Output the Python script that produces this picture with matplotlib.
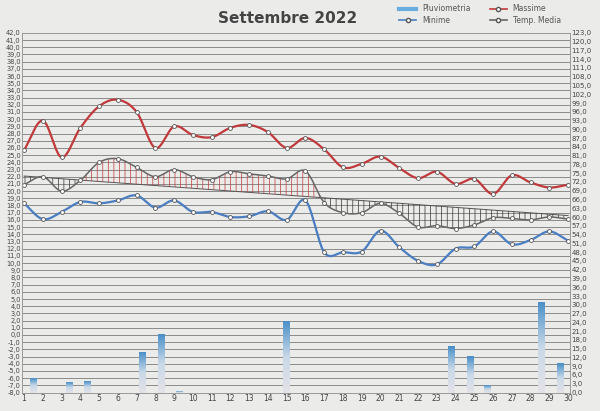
import numpy as np
import matplotlib.pyplot as plt
from matplotlib.colors import LinearSegmentedColormap
from matplotlib.lines import Line2D

days = list(range(1, 31))
massime = [25.7, 29.8, 24.7, 28.8, 31.8, 32.7, 31.0, 26.0, 29.0, 27.8, 27.5, 28.8, 29.2, 28.2, 26.0,
           27.4, 25.8, 23.3, 23.8, 24.8, 23.2, 21.8, 22.7, 21.0, 21.7, 19.6, 22.2, 21.2, 20.5, 20.9]
minime = [18.3, 16.1, 17.1, 18.5, 18.3, 18.7, 19.4, 17.7, 18.7, 17.1, 17.1, 16.4, 16.5, 17.2, 16.0,
          18.7, 11.5, 11.5, 11.6, 14.5, 12.2, 10.3, 9.8, 12.0, 12.3, 14.4, 12.6, 13.2, 14.4, 13.1]
media = [20.9, 22.0, 20.0, 21.5, 24.0, 24.5, 23.3, 22.0, 23.0, 22.0, 21.6, 22.7, 22.4, 22.1, 21.7,
         22.8, 18.4, 17.0, 17.0, 18.3, 16.9, 15.0, 15.2, 14.8, 15.3, 16.3, 16.2, 16.0, 16.4, 16.1]
normale_start, normale_end = 22.1, 16.6
rain_x = [1.5, 3.4, 4.4, 7.3, 8.3, 9.3, 15.0, 23.8, 24.8, 25.7, 28.6, 29.6]
rain_mm = [5.0, 3.5, 3.8, 14.0, 20.0, 0.6, 24.3, 16.0, 12.5, 2.5, 31.0, 10.2]


def smooth(x, y, n=20):
    # Catmull-Rom curve like Excel's smoothed line
    x = np.asarray(x, float); y = np.asarray(y, float)
    px = np.concatenate([[2 * x[0] - x[1]], x, [2 * x[-1] - x[-2]]])
    py = np.concatenate([[2 * y[0] - y[1]], y, [2 * y[-1] - y[-2]]])
    ox, oy = [], []
    t = np.linspace(0, 1, n, endpoint=False)
    for i in range(1, len(px) - 2):
        for p, o in ((px, ox), (py, oy)):
            p0, p1, p2, p3 = p[i - 1], p[i], p[i + 1], p[i + 2]
            o.extend(0.5 * (2 * p1 + (-p0 + p2) * t + (2 * p0 - 5 * p1 + 4 * p2 - p3) * t ** 2
                            + (-p0 + 3 * p1 - 3 * p2 + p3) * t ** 3))
    ox.append(x[-1]); oy.append(y[-1])
    return np.array(ox), np.array(oy)


plt.rcParams['hatch.linewidth'] = 0.5
bg = '#ebebea'
fig = plt.figure(figsize=(6, 4.11), dpi=100, facecolor=bg)
ax = fig.add_axes([0.037, 0.045, 0.913, 0.875], facecolor=bg)
ax2 = ax.twinx()

ax.set_xlim(0.9, 30.1)
ax.set_ylim(-8, 42)
ax.set_yticks(np.arange(-8, 43, 1))
ax.set_yticklabels([f"{v:.1f}".replace('.', ',') for v in np.arange(-8, 43, 1)], fontsize=4.8, color='#444')
ax2.set_yticks(np.arange(0, 124, 3))
ax2.set_yticklabels([f"{v:.1f}".replace('.', ',') for v in np.arange(0, 124, 3)], fontsize=5, color='#444')
ax.set_xticks(days)
ax.set_xticklabels(days, fontsize=5.5, color='#444')
ax.tick_params(length=0, pad=1)
ax2.tick_params(length=0, pad=1)
ax.grid(axis='y', color='#8a8a8a', lw=0.7)
for a in (ax, ax2):
    for s in a.spines.values():
        s.set_color('#999')
        s.set_linewidth(0.6)

# rain bars with gradient (right axis)
cmap = LinearSegmentedColormap.from_list('rain', ['#e4e2e8', '#c9d9e8', '#4a90c8'])
grad = np.linspace(0, 1, 100).reshape(-1, 1)
for xr, h in zip(rain_x, rain_mm):
    ax2.imshow(grad, cmap=cmap, origin='lower', aspect='auto',
               extent=(xr - 0.18, xr + 0.18, 0, h), zorder=1)
ax2.set_xlim(0.9, 30.1)
ax2.set_ylim(0, 123)

# climatological reference + hatched anomaly
sx, sy = smooth(days, media)
norm = normale_start + (sx - 1) / 29 * (normale_end - normale_start)
ax.plot(sx, norm, color='#555', lw=0.7, zorder=3)
ax.fill_between(sx, norm, sy, where=sy >= norm, facecolor='none', edgecolor='#c0393b',
                hatch='|||', lw=0, zorder=3)
ax.fill_between(sx, norm, sy, where=sy < norm, facecolor='none', edgecolor='#333',
                hatch='|||', lw=0, zorder=3)

for vals, col, lw in ((minime, '#4a7ec0', 1.6), (massime, '#c0393b', 1.6), (media, '#666666', 1.1)):
    cx, cy = smooth(days, vals)
    ax.plot(cx, cy, color=col, lw=lw, zorder=4)
    ax.plot(days, vals, 'o', ms=2.8, mfc='white', mec='#555', mew=0.6, zorder=5)

fig.text(0.48, 0.955, 'Settembre 2022', ha='center', va='center', fontsize=11,
         fontweight='bold', color='#444')

handles = [Line2D([], [], color='#6aaee0', lw=3),
           Line2D([], [], color='#4a7ec0', lw=1.2, marker='o', ms=3, mfc='white', mec='#555'),
           Line2D([], [], color='#c0393b', lw=1.2, marker='o', ms=3, mfc='white', mec='#555'),
           Line2D([], [], color='#666', lw=1.2, marker='o', ms=3, mfc='white', mec='#555')]
fig.legend(handles, ['Pluviometria', 'Minime', 'Massime', 'Temp. Media'], ncol=2,
           loc='center', bbox_to_anchor=(0.8, 0.965), fontsize=5.5, frameon=False,
           handlelength=2.2, columnspacing=2.5, labelspacing=0.3, labelcolor='#555')

fig.savefig('out.png', dpi=100, facecolor=bg)
